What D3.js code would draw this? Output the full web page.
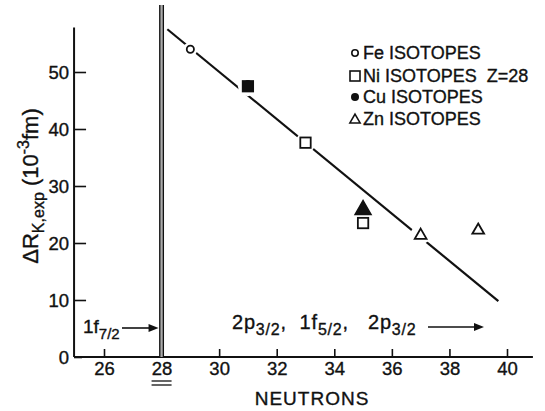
<!DOCTYPE html>
<html>
<head>
<meta charset="utf-8">
<script src="https://cdn.jsdelivr.net/npm/d3@7"></script>
<style>
  body { margin: 0; background: #fff; }
  svg { font-family: "Liberation Sans", Arial, sans-serif; }
  text { fill: #111; stroke: #111; stroke-width: 0.35px; }
</style>
</head>
<body>
<svg id="chart" width="545" height="411"></svg>
<script>
// values
const xTicks = [26, 28, 30, 32, 34, 36, 38, 40];
const yTicks = [0, 10, 20, 30, 40, 50];
const feN = [29], feVal = [54];
const niN = [31, 33, 35], niVal = [47.5, 37.6, 23.5];
const cuN = [31], cuVal = [47.8];
const znN = [37, 39], znVal = [21.5, 22.4];
const znFilledN = [35], znFilledVal = [26];
const fitN = [28.2, 39.7], fitVal = [57.5, 9.8];
const legendLabels = ["Fe ISOTOPES", "Ni ISOTOPES  Z=28", "Cu ISOTOPES", "Zn ISOTOPES"];
const shellN = 28;

const svg = d3.select("#chart");
const x = d3.scaleLinear().domain([26, 40]).range([104, 507]);
const y = d3.scaleLinear().domain([0, 50]).range([357, 72]);

const ink = "#111";

// axes lines
svg.append("line").attr("x1", x(24.96)).attr("x2", x(40.9))
  .attr("y1", y(0)).attr("y2", y(0)).attr("stroke", ink).attr("stroke-width", 2);
svg.append("line").attr("x1", x(24.96)).attr("x2", x(24.96))
  .attr("y1", y(0)).attr("y2", y(57.8)).attr("stroke", ink).attr("stroke-width", 2);

const xAxis = svg.append("g").attr("transform", `translate(0,${y(0)})`)
  .call(d3.axisBottom(x).tickValues(xTicks).tickSizeInner(-8).tickSizeOuter(0).tickPadding(5));
xAxis.select(".domain").remove();
xAxis.selectAll("line").attr("stroke", ink).attr("stroke-width", 1.6);
xAxis.selectAll("text").attr("font-size", 18.5).attr("fill", ink).attr("font-family", null);

const yAxis = svg.append("g").attr("transform", `translate(${x(24.96)},0)`)
  .call(d3.axisLeft(y).tickValues(yTicks).tickSizeInner(-12).tickSizeOuter(0).tickPadding(5));
yAxis.select(".domain").remove();
yAxis.selectAll("line").attr("stroke", ink).attr("stroke-width", 1.6);
yAxis.selectAll("text").attr("font-size", 18.5).attr("fill", ink).attr("dy", "0.36em").attr("font-family", null);
yAxis.selectAll(".tick").filter(d => d === 0).select("line").attr("x2", 8);

// double underline under 28
[0, 4].forEach(o => {
  svg.append("line").attr("x1", x(shellN) - 10).attr("x2", x(shellN) + 10)
    .attr("y1", y(0) + 24 + o).attr("y2", y(0) + 24 + o).attr("stroke", ink).attr("stroke-width", 1.3);
});

// shell closure double line
svg.append("rect").attr("x", x(shellN) - 2.2).attr("width", 4.4)
  .attr("y", 5).attr("height", y(0) - 5).attr("fill", "#aaa");
[-1.8, 1.8].forEach(o => {
  svg.append("line").attr("x1", x(shellN) + o).attr("x2", x(shellN) + o)
    .attr("y1", 5).attr("y2", y(0)).attr("stroke", ink).attr("stroke-width", 1.3);
});

// fit line
svg.append("line")
  .attr("x1", x(fitN[0])).attr("y1", y(fitVal[0]))
  .attr("x2", x(fitN[1])).attr("y2", y(fitVal[1]))
  .attr("stroke", ink).attr("stroke-width", 2.2);

// white halos to break the line around on-line markers
const halos = [
  ...feN.map((n, i) => [n, feVal[i], 7]),
  [niN[0], niVal[0], 10], [niN[1], niVal[1], 10],
  ...znN.map((n, i) => [n, znVal[i], 10])
];
svg.selectAll(".halo").data(halos).join("circle")
  .attr("cx", d => x(d[0])).attr("cy", d => y(d[1])).attr("r", d => d[2]).attr("fill", "#fff");

const tri = d3.symbol().type(d3.symbolTriangle).size(60);

// Fe
svg.selectAll(".fe").data(feN).join("circle")
  .attr("cx", d => x(d)).attr("cy", (d, i) => y(feVal[i])).attr("r", 3.6)
  .attr("fill", "#fff").attr("stroke", ink).attr("stroke-width", 1.8);
// Cu (under Ni square)
svg.selectAll(".cu").data(cuN).join("circle")
  .attr("cx", d => x(d)).attr("cy", (d, i) => y(cuVal[i])).attr("r", 4.5).attr("fill", ink);
// Ni
svg.selectAll(".ni").data(niN).join("rect")
  .attr("x", d => x(d) - 5.2).attr("y", (d, i) => y(niVal[i]) - 5.2)
  .attr("width", 10.4).attr("height", 10.4)
  .attr("fill", (d, i) => i === 0 ? ink : "none").attr("stroke", ink).attr("stroke-width", 1.8);
// Zn
svg.selectAll(".zn").data(znN).join("path")
  .attr("d", tri).attr("transform", (d, i) => `translate(${x(d)},${y(znVal[i]) + 1})`)
  .attr("fill", "#fff").attr("stroke", ink).attr("stroke-width", 1.8);
svg.selectAll(".znf").data(znFilledN).join("path")
  .attr("d", d3.symbol().type(d3.symbolTriangle).size(110))
  .attr("transform", (d, i) => `translate(${x(d)},${y(znFilledVal[i]) + 1})`)
  .attr("fill", ink).attr("stroke", ink).attr("stroke-width", 1.5);

// legend
const lg = svg.append("g").attr("transform", "translate(355,0)");
const rows = [53, 76, 97, 119];
lg.append("circle").attr("cx", 0).attr("cy", rows[0]).attr("r", 3.2)
  .attr("fill", "#fff").attr("stroke", ink).attr("stroke-width", 1.6);
lg.append("rect").attr("x", -5).attr("y", rows[1] - 5).attr("width", 10).attr("height", 10)
  .attr("fill", "none").attr("stroke", ink).attr("stroke-width", 1.6);
lg.append("circle").attr("cx", 0).attr("cy", rows[2]).attr("r", 4).attr("fill", ink);
lg.append("path").attr("d", d3.symbol().type(d3.symbolTriangle).size(45))
  .attr("transform", `translate(0,${rows[3] + 1})`)
  .attr("fill", "#fff").attr("stroke", ink).attr("stroke-width", 1.6);
lg.selectAll(".lt").data(legendLabels).join("text")
  .attr("x", 8).attr("y", (d, i) => rows[i]).attr("dy", "0.36em")
  .attr("font-size", 18).attr("xml:space", "preserve").text(d => d);

// x title
svg.append("text").attr("x", 312).attr("y", 405).attr("text-anchor", "middle")
  .attr("font-size", 19).attr("letter-spacing", 1).text("NEUTRONS");

// y title
const yt = svg.append("text").attr("transform", "translate(38,186) rotate(-90)")
  .attr("text-anchor", "middle").attr("font-size", 22);
yt.append("tspan").text("ΔR");
yt.append("tspan").attr("font-size", 16).attr("dy", 6).text("K,exp");
yt.append("tspan").attr("dy", -6).text(" (10");
yt.append("tspan").attr("font-size", 16).attr("dy", -9).text("-3");
yt.append("tspan").attr("dy", 9).text("fm)");

// shell annotations
const arrowHead = (g, xEnd, yy) => {
  g.append("path").attr("d", `M${xEnd},${yy} l-10,-4 l0,8 z`).attr("fill", ink);
};
const a1 = svg.append("text").attr("x", 83).attr("y", 333).attr("font-size", 19);
a1.append("tspan").text("1f");
a1.append("tspan").attr("font-size", 15).attr("dy", 6).text("7/2");
svg.append("line").attr("x1", 122).attr("x2", 152).attr("y1", 328).attr("y2", 328)
  .attr("stroke", ink).attr("stroke-width", 1.6);
arrowHead(svg, x(shellN) - 3, 328);

const a2 = svg.append("text").attr("x", 232).attr("y", 329).attr("font-size", 20)
  .attr("letter-spacing", 0.8).attr("xml:space", "preserve");
a2.append("tspan").text("2p");
a2.append("tspan").attr("font-size", 16).attr("dy", 6).text("3/2");
a2.append("tspan").attr("dy", -6).text(",  1f");
a2.append("tspan").attr("font-size", 16).attr("dy", 6).text("5/2");
a2.append("tspan").attr("dy", -6).text(",   2p");
a2.append("tspan").attr("font-size", 16).attr("dy", 6).text("3/2");
svg.append("line").attr("x1", 428).attr("x2", 476).attr("y1", 327).attr("y2", 327)
  .attr("stroke", ink).attr("stroke-width", 1.6);
arrowHead(svg, 484, 327);
</script>
</body>
</html>
